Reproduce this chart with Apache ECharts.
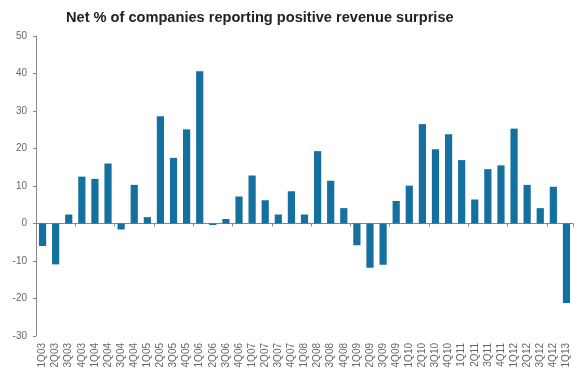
<!DOCTYPE html>
<html><head><meta charset="utf-8">
<script src="https://cdn.jsdelivr.net/npm/echarts@6/dist/echarts.min.js"></script>
<style>html,body{margin:0;padding:0;background:#fff}#c{width:580px;height:374px}</style>
</head><body><div id="c"></div>
<script>
var categories = ["1Q03","2Q03","3Q03","4Q03","1Q04","2Q04","3Q04","4Q04","1Q05","2Q05","3Q05","4Q05","1Q06","2Q06","3Q06","4Q06","1Q07","2Q07","3Q07","4Q07","1Q08","2Q08","3Q08","4Q08","1Q09","2Q09","3Q09","4Q09","1Q10","2Q10","3Q10","4Q10","1Q11","2Q11","3Q11","4Q11","1Q12","2Q12","3Q12","4Q12","1Q13"];
var values = [-6,-10.9,2.4,12.5,11.9,16.0,-1.6,10.3,1.7,28.6,17.5,25.1,40.6,-0.4,1.2,7.2,12.8,6.2,2.4,8.6,2.4,19.3,11.4,4.1,-5.8,-11.8,-11.0,6.0,10.1,26.5,19.8,23.8,16.9,6.4,14.5,15.5,25.3,10.3,4.1,9.8,-21.2];
var yTicks = [-30,-20,-10,0,10,20,30,40,50];
var title = "Net % of companies reporting positive revenue surprise";

var chart = echarts.init(document.getElementById('c'));
chart.setOption({
  animation: false,
  title: {text: title, left: 61, top: 5, textStyle: {fontFamily: 'Liberation Sans, Arial', fontWeight: 'bold', fontSize: 14.6, color: '#222'}},
  grid: {left: 36, right: 7, top: 36, bottom: 38},
  xAxis: [{
    type: 'category', data: categories,
    axisLine: {onZero: true, lineStyle: {color: '#888'}},
    axisTick: {show: true, length: 3, lineStyle: {color: '#888'}},
    axisLabel: {show: false}
  },{
    type: 'category', data: categories, position: 'bottom',
    axisLine: {show: false, onZero: false}, axisTick: {show: false},
    axisLabel: {interval: 0, rotate: 90, fontSize: 10, color: '#666', fontFamily: 'Liberation Sans, Arial', margin: 7}
  }],
  yAxis: {
    type: 'value', min: yTicks[0], max: yTicks[yTicks.length-1], interval: 10,
    axisLine: {show: true, lineStyle: {color: '#888'}},
    axisTick: {show: true, length: 3, lineStyle: {color: '#888'}},
    splitLine: {show: false},
    axisLabel: {fontSize: 10, color: '#666', fontFamily: 'Liberation Sans, Arial', margin: 9}
  },
  series: [{
    type: 'bar', data: values, xAxisIndex: 0, barWidth: '55%',
    itemStyle: {color: '#14709f'}
  }]
});
</script></body></html>
